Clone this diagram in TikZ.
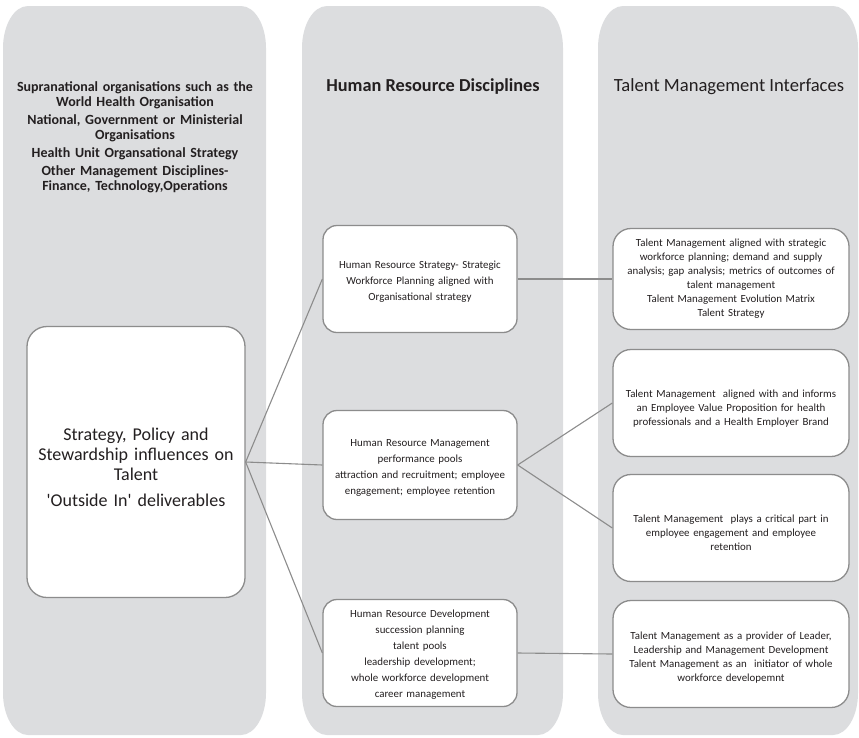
\documentclass[tikz,border=0pt]{standalone}
\usepackage{fontspec}
\setmainfont{Carlito}
\definecolor{panelgray}{HTML}{DCDDDF}
\definecolor{edgegray}{HTML}{8C8C8C}
\definecolor{inkgray}{HTML}{231F20}
% column panel with elliptical corners: left x, right x, top y, bottom y
\newcommand\drawpanel[4]{%
  \fill[panelgray] (#1,#4-42) -- (#1,#3+42)
    arc[start angle=180,end angle=270,x radius=25,y radius=42]
    -- (#2-25,#3)
    arc[start angle=270,end angle=360,x radius=25,y radius=42]
    -- (#2,#4-42)
    arc[start angle=0,end angle=90,x radius=25,y radius=42]
    -- (#1+25,#4)
    arc[start angle=90,end angle=180,x radius=25,y radius=42] -- cycle;}
\begin{document}
\begin{tikzpicture}[x=1pt,y=-1pt,
  box/.style={draw=edgegray,line width=1.3pt,fill=white,inner sep=0pt},
  leftbox/.style={box,rounded corners=20pt,minimum width=218pt,minimum height=271pt},
  midbox/.style={box,rounded corners=14pt,minimum width=194pt},
  rightbox/.style={box,rounded corners=18pt,minimum width=236pt},
  txt/.style={align=center,inner sep=0pt,text=inkgray},
  lefttext/.style={txt,text width=212pt,font=\fontsize{18}{20}\selectfont},
  midtext/.style={txt,text width=190pt,font=\fontsize{10.9}{16}\selectfont},
  righttext/.style={txt,text width=234pt,font=\fontsize{10.9}{14}\selectfont},
  link/.style={draw=edgegray,line width=1.1pt}]
\useasboundingbox (0,0) rectangle (859,737);

% column panels
\drawpanel{3}{266}{6}{735}
\drawpanel{302}{563}{6}{735}
\drawpanel{598}{858}{6}{735}

% column headings
\node[txt,text width=262pt,font=\bfseries\fontsize{14}{15}\selectfont] (influences) at (135,137)
  {Supranational organisations such as the\\ World Health Organisation\\[3pt]
   National, Government or Ministerial\\ Organisations\\[3pt]
   Health Unit Organsational Strategy\\[3pt]
   Other Management Disciplines-\\ Finance, Technology,Operations};
\node[txt,font=\bfseries\fontsize{18.3}{20}\selectfont] (hrhead) at (433,87) {Human Resource Disciplines};
\node[txt,font=\fontsize{18.6}{20}\selectfont] (tmhead) at (729,87) {Talent Management Interfaces};

% boxes
\node[leftbox] (outside) at (136,462) {};
\node[midbox,minimum height=107pt] (hrs) at (420,279) {};
\node[midbox,minimum height=109pt] (hrm) at (420,465) {};
\node[midbox,minimum height=107pt] (hrd) at (420,653) {};
\node[rightbox,minimum height=101pt] (tmplan) at (731,279) {};
\node[rightbox,minimum height=107pt] (tmevp) at (731,403) {};
\node[rightbox,minimum height=107pt] (tmeng) at (731,528) {};
\node[rightbox,minimum height=107pt] (tmdev) at (731,654) {};

% box texts
\node[lefttext] (outsidetext) at (136,467)
  {Strategy, Policy and\\ Stewardship influences on\\ Talent\\[6pt] \textquotesingle Outside In\textquotesingle\ deliverables};
\node[midtext] (hrstext) at (420,282)
  {Human Resource Strategy- Strategic\\ Workforce Planning aligned with\\ Organisational strategy};
\node[midtext] (hrmtext) at (420,468)
  {Human Resource Management\\ performance pools\\ attraction and recruitment; employee\\ engagement; employee retention};
\node[midtext] (hrdtext) at (420,655)
  {Human Resource Development\\ succession planning\\ talent pools\\ leadership development;\\ whole workforce development\\ career management};
\node[righttext] (tmplantext) at (731,279)
  {Talent Management aligned with strategic\\ workforce planning; demand and supply\\ analysis; gap analysis; metrics of outcomes of\\ talent management\\ Talent Management Evolution Matrix\\ Talent Strategy};
\node[righttext] (tmevptext) at (731,409)
  {Talent Management\ \ aligned with and informs\\ an Employee Value Proposition for health\\ professionals and a Health Employer Brand};
\node[righttext] (tmengtext) at (731,533)
  {Talent Management\ \ plays a critical part in\\ employee engagement and employee\\ retention};
\node[righttext] (tmdevtext) at (731,658)
  {Talent Management as a provider of Leader,\\ Leadership and Management Development\\ Talent Management as an\ \ initiator of whole\\ workforce developemnt};

% connectors
\draw[link] (outside.east) -- (hrs.west);
\draw[link] (outside.east) -- (hrm.west);
\draw[link] (outside.east) -- (hrd.west);
\draw[link] (hrs.east) -- (tmplan.west);
\draw[link] (hrm.east) -- (tmevp.west);
\draw[link] (hrm.east) -- (tmeng.west);
\draw[link] (hrd.east) -- (tmdev.west);
\end{tikzpicture}
\end{document}
